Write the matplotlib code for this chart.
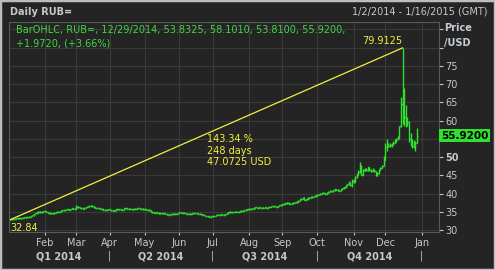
import numpy as np
import pandas as pd
import matplotlib
matplotlib.use("Agg")
import matplotlib.pyplot as plt
from matplotlib.patches import Rectangle

# Daily RUB= bars, 2 Jan 2014 - 29 Dec 2014 (business days)
OPEN = [
    32.88, 32.95, 33.05, 33.10, 33.12, 33.20, 33.28, 33.22, 33.30, 33.38, 33.50, 33.48, 33.60, 33.70, 33.85, 34.05, 34.40, 34.62, 34.85, 35.10, 34.90, 35.08,
    35.20, 35.15, 34.98, 34.80, 34.62, 34.70, 34.60, 34.80, 34.92, 35.10, 35.02, 35.30, 35.48, 35.50, 35.62, 35.72, 35.60, 35.80, 35.98, 35.90,
    35.92, 36.45, 36.25, 36.05, 35.95, 35.92, 36.15, 36.35, 36.50, 36.60, 36.72, 36.55, 36.25, 36.10, 36.05, 35.95, 35.85, 35.72, 35.62, 35.60, 35.58,
    35.68, 35.55, 35.48, 35.30, 35.42, 35.70, 35.72, 35.70, 35.62, 35.60, 36.00, 36.05, 35.90, 35.88, 35.80, 35.70, 35.82, 35.90, 36.02, 36.00, 35.92, 35.88,
    35.70, 35.68, 35.52, 35.60, 35.40, 35.02, 34.90, 34.80, 34.92, 34.78, 34.62, 34.58, 34.70, 34.62, 34.42, 34.30, 34.22, 34.30, 34.40, 34.50, 34.42, 34.52,
    34.70, 34.88, 34.72, 34.80, 34.70, 34.52, 34.50, 34.48, 34.52, 34.60, 34.72, 34.70, 34.60, 34.50, 34.40, 34.20, 34.10, 33.90, 33.82, 33.78, 33.70,
    33.80, 33.88, 33.82, 34.10, 34.20, 34.22, 34.30, 34.28, 34.20, 34.40, 34.60, 34.90, 35.02, 34.90, 35.00, 35.05, 34.92, 35.10, 35.12, 35.30, 35.20, 35.50, 35.62,
    35.70, 35.80, 35.82, 35.90, 36.10, 36.30, 36.02, 36.28, 36.20, 36.10, 36.12, 36.22, 36.10, 36.30, 36.32, 36.50, 36.62, 36.50, 36.42, 36.60, 36.80,
    37.00, 37.10, 37.22, 37.40, 37.52, 37.30, 37.20, 37.32, 37.50, 37.62, 37.80, 38.02, 38.40, 38.62, 38.90, 38.30, 38.42, 38.80, 38.92, 39.20, 39.02, 39.30,
    39.60, 39.62, 39.80, 40.00, 40.12, 40.20, 40.02, 40.30, 40.42, 40.70, 40.62, 40.90, 41.20, 41.02, 40.90, 40.82, 41.20, 41.50, 41.72, 42.30, 42.52, 43.00, 42.40,
    43.40, 43.20, 44.50, 45.20, 45.90, 47.60, 45.20, 46.40, 46.60, 46.40, 47.20, 46.40, 46.30, 46.60, 46.10, 45.00, 45.60, 46.60, 47.00, 47.70,
    49.30, 52.70, 53.50, 53.00, 53.30, 53.50, 54.00, 54.20, 54.90, 55.30, 58.40, 64.50, 67.80, 61.00, 60.50, 59.70, 55.00, 54.50, 53.00, 54.00, 53.8325,
]
HIGH = [
    33.05, 33.15, 33.22, 33.25, 33.30, 33.38, 33.36, 33.40, 33.48, 33.60, 33.60, 33.70, 33.82, 33.98, 34.20, 34.55, 34.80, 35.00, 35.28, 35.22, 35.20, 35.35,
    35.38, 35.25, 35.08, 34.90, 34.82, 34.80, 34.90, 35.02, 35.22, 35.18, 35.42, 35.60, 35.62, 35.74, 35.85, 35.82, 35.92, 36.10, 36.08, 36.05,
    36.90, 36.60, 36.35, 36.15, 36.08, 36.25, 36.48, 36.62, 36.72, 36.85, 36.80, 36.62, 36.35, 36.20, 36.15, 36.05, 35.95, 35.82, 35.72, 35.70, 35.78,
    35.80, 35.65, 35.55, 35.52, 35.82, 35.85, 35.82, 35.78, 35.72, 36.10, 36.18, 36.12, 36.00, 35.95, 35.88, 35.92, 36.02, 36.12, 36.12, 36.08, 36.00, 35.95,
    35.82, 35.78, 35.70, 35.68, 35.48, 35.10, 35.00, 35.02, 34.98, 34.85, 34.72, 34.80, 34.78, 34.70, 34.50, 34.40, 34.40, 34.50, 34.60, 34.58, 34.62, 34.82,
    35.00, 34.95, 34.90, 34.88, 34.78, 34.62, 34.60, 34.62, 34.70, 34.82, 34.82, 34.78, 34.68, 34.58, 34.48, 34.30, 34.20, 34.00, 33.92, 33.88, 33.90,
    33.98, 33.98, 34.20, 34.32, 34.32, 34.42, 34.40, 34.35, 34.50, 34.72, 35.02, 35.15, 35.10, 35.10, 35.18, 35.15, 35.20, 35.25, 35.42, 35.40, 35.62, 35.75, 35.85,
    35.92, 35.95, 36.02, 36.22, 36.45, 36.40, 36.38, 36.35, 36.28, 36.22, 36.32, 36.30, 36.40, 36.45, 36.62, 36.75, 36.72, 36.60, 36.72, 36.92, 37.15,
    37.25, 37.35, 37.55, 37.70, 37.62, 37.40, 37.45, 37.62, 37.75, 37.95, 38.15, 38.55, 38.80, 39.10, 38.95, 38.55, 38.95, 39.08, 39.35, 39.32, 39.45, 39.75,
    39.85, 39.95, 40.15, 40.30, 40.40, 40.30, 40.45, 40.60, 40.90, 40.85, 41.05, 41.40, 41.35, 41.15, 41.00, 41.35, 41.65, 41.90, 42.45, 42.75, 43.35, 43.10, 44.00,
    43.90, 44.80, 45.70, 46.40, 48.70, 47.80, 46.80, 47.00, 46.90, 47.40, 47.30, 46.70, 46.90, 46.70, 46.20, 45.90, 46.80, 47.40, 47.90, 50.20,
    54.00, 54.90, 53.90, 53.90, 53.80, 54.40, 54.90, 55.30, 55.80, 58.60, 66.60, 79.9125, 69.00, 64.30, 61.00, 59.80, 56.50, 55.00, 54.80, 54.30, 58.101,
]
LOW = [
    32.84, 32.88, 32.96, 33.00, 33.04, 33.10, 33.12, 33.14, 33.22, 33.30, 33.38, 33.40, 33.52, 33.62, 33.78, 33.98, 34.30, 34.52, 34.75, 34.80, 34.80, 35.00,
    35.02, 34.90, 34.72, 34.55, 34.55, 34.52, 34.55, 34.72, 34.85, 34.92, 34.95, 35.22, 35.38, 35.42, 35.55, 35.50, 35.52, 35.72, 35.82, 35.80,
    35.85, 36.15, 35.95, 35.85, 35.82, 35.85, 36.05, 36.25, 36.42, 36.50, 36.45, 36.18, 36.00, 35.95, 35.85, 35.75, 35.62, 35.52, 35.50, 35.48, 35.50,
    35.45, 35.38, 35.22, 35.25, 35.35, 35.60, 35.62, 35.55, 35.50, 35.55, 35.92, 35.82, 35.78, 35.72, 35.60, 35.65, 35.75, 35.82, 35.90, 35.85, 35.80, 35.62,
    35.58, 35.45, 35.45, 35.32, 34.95, 34.82, 34.72, 34.75, 34.70, 34.55, 34.50, 34.52, 34.55, 34.38, 34.22, 34.15, 34.15, 34.22, 34.32, 34.35, 34.38, 34.45,
    34.62, 34.65, 34.65, 34.62, 34.45, 34.42, 34.40, 34.40, 34.45, 34.52, 34.62, 34.52, 34.42, 34.32, 34.12, 34.02, 33.82, 33.75, 33.70, 33.62, 33.62,
    33.72, 33.75, 33.78, 34.02, 34.12, 34.15, 34.20, 34.12, 34.15, 34.32, 34.52, 34.82, 34.82, 34.85, 34.92, 34.85, 34.85, 35.02, 35.05, 35.12, 35.15, 35.42, 35.52,
    35.62, 35.70, 35.75, 35.82, 36.02, 35.95, 35.95, 36.12, 36.02, 36.02, 36.05, 36.02, 36.02, 36.22, 36.25, 36.42, 36.42, 36.35, 36.35, 36.52, 36.72,
    36.90, 37.00, 37.12, 37.30, 37.20, 37.10, 37.12, 37.25, 37.42, 37.55, 37.72, 37.95, 38.32, 38.52, 38.20, 38.20, 38.35, 38.72, 38.85, 38.92, 38.95, 39.22,
    39.45, 39.52, 39.70, 39.90, 40.02, 39.90, 39.95, 40.20, 40.35, 40.50, 40.55, 40.82, 40.90, 40.80, 40.70, 40.75, 41.10, 41.40, 41.60, 42.15, 42.40, 42.20, 41.90,
    42.80, 43.10, 44.30, 45.00, 45.70, 45.00, 45.10, 46.10, 46.20, 46.30, 46.20, 45.90, 46.10, 45.90, 44.70, 44.80, 45.50, 46.40, 46.90, 47.60,
    49.20, 51.80, 52.70, 52.80, 52.90, 53.30, 53.80, 54.10, 54.70, 55.20, 58.20, 59.00, 58.40, 58.30, 58.50, 54.20, 53.00, 52.60, 52.60, 51.80, 53.81,
]
CLOSE = [
    32.95, 33.05, 33.10, 33.12, 33.20, 33.28, 33.22, 33.30, 33.38, 33.50, 33.48, 33.60, 33.70, 33.85, 34.05, 34.40, 34.62, 34.85, 35.10, 34.90, 35.08, 35.20,
    35.15, 34.98, 34.80, 34.62, 34.70, 34.60, 34.80, 34.92, 35.10, 35.02, 35.30, 35.48, 35.50, 35.62, 35.72, 35.60, 35.80, 35.98, 35.90, 35.92,
    36.45, 36.25, 36.05, 35.95, 35.92, 36.15, 36.35, 36.50, 36.60, 36.72, 36.55, 36.25, 36.10, 36.05, 35.95, 35.85, 35.72, 35.62, 35.60, 35.58, 35.68,
    35.55, 35.48, 35.30, 35.42, 35.70, 35.72, 35.70, 35.62, 35.60, 36.00, 36.05, 35.90, 35.88, 35.80, 35.70, 35.82, 35.90, 36.02, 36.00, 35.92, 35.88, 35.70,
    35.68, 35.52, 35.60, 35.40, 35.02, 34.90, 34.80, 34.92, 34.78, 34.62, 34.58, 34.70, 34.62, 34.42, 34.30, 34.22, 34.30, 34.40, 34.50, 34.42, 34.52, 34.70,
    34.88, 34.72, 34.80, 34.70, 34.52, 34.50, 34.48, 34.52, 34.60, 34.72, 34.70, 34.60, 34.50, 34.40, 34.20, 34.10, 33.90, 33.82, 33.78, 33.70, 33.80,
    33.88, 33.82, 34.10, 34.20, 34.22, 34.30, 34.28, 34.20, 34.40, 34.60, 34.90, 35.02, 34.90, 35.00, 35.05, 34.92, 35.10, 35.12, 35.30, 35.20, 35.50, 35.62, 35.70,
    35.80, 35.82, 35.90, 36.10, 36.30, 36.02, 36.28, 36.20, 36.10, 36.12, 36.22, 36.10, 36.30, 36.32, 36.50, 36.62, 36.50, 36.42, 36.60, 36.80, 37.00,
    37.10, 37.22, 37.40, 37.52, 37.30, 37.20, 37.32, 37.50, 37.62, 37.80, 38.02, 38.40, 38.62, 38.90, 38.30, 38.42, 38.80, 38.92, 39.20, 39.02, 39.30, 39.60,
    39.62, 39.80, 40.00, 40.12, 40.20, 40.02, 40.30, 40.42, 40.70, 40.62, 40.90, 41.20, 41.02, 40.90, 40.82, 41.20, 41.50, 41.72, 42.30, 42.52, 43.00, 42.40, 43.40,
    43.20, 44.50, 45.20, 45.90, 47.60, 45.20, 46.40, 46.60, 46.40, 47.20, 46.40, 46.30, 46.60, 46.10, 45.00, 45.60, 46.60, 47.00, 47.70, 49.30,
    52.70, 53.50, 53.00, 53.30, 53.50, 54.00, 54.20, 54.90, 55.30, 58.40, 64.50, 67.80, 61.00, 60.50, 59.70, 55.00, 54.50, 53.00, 54.00, 53.95, 55.92,
]

MONTH_LABELS = ["Feb", "Mar", "Apr", "May", "Jun", "Jul", "Aug", "Sep", "Oct", "Nov", "Dec", "Jan"]
QUARTER_LABELS = ["Q1 2014", "Q2 2014", "Q3 2014", "Q4 2014"]
# 55 sits under the last-price tag, so it is not labelled
Y_LABELLED = [30, 35, 40, 45, 50, 60, 65, 70, 75]

TREND_START = 32.84
TREND_END = 79.9125
TREND_INFO = "143.34 %\n248 days\n47.0725 USD"
LAST_PRICE = 55.92

# colours
BG = "#242424"
GRID = "#3a3a3a"
TEXT = "#c8c8c8"
GREEN = "#2fe02f"
YELLOW = "#f0f040"

# business-day axis (weekends removed, like the source terminal)
days = pd.bdate_range("2014-01-02", "2015-01-16")
x = np.arange(len(OPEN))
month_idx = [i for i in range(1, len(days)) if days[i].month != days[i - 1].month]
quarter_idx = [i for i in month_idx if days[i].month in (4, 7, 10, 1)]

plt.rcParams["font.family"] = "DejaVu Sans"

fig = plt.figure(figsize=(4.95, 2.7), dpi=100, facecolor=BG)
ax = fig.add_axes([9 / 495, 1 - 232 / 270, 430 / 495, 210 / 270])
ax.set_facecolor(BG)

# OHLC bars
ax.vlines(x, LOW, HIGH, color=GREEN, lw=1.0)
ax.hlines(OPEN, x - 0.7, x, color=GREEN, lw=1.0)
ax.hlines(CLOSE, x, x + 0.7, color=GREEN, lw=1.0)

# trend line low -> high
peak = int(np.argmax(HIGH))
ax.plot([0, peak], [TREND_START, TREND_END], color=YELLOW, lw=0.9)
ax.annotate(f"{TREND_START:.2f}", (0, TREND_START), xytext=(0, -2), textcoords="offset points",
            ha="left", va="top", color=YELLOW, fontsize=7)
ax.annotate(f"{TREND_END:.4f}", (peak, TREND_END), xytext=(0, 1), textcoords="offset points",
            ha="right", va="bottom", color=YELLOW, fontsize=7)
ax.text(124.5, 56.2, TREND_INFO, ha="left", va="top", color=YELLOW, fontsize=7, linespacing=1.15)

ax.set_xlim(-0.6, 271)
ax.set_ylim(29.5, 87)

# grid
ax.set_yticks(np.arange(30, 90, 5))
ax.set_xticks(month_idx)
ax.grid(True, color=GRID, lw=0.8)
ax.set_axisbelow(True)

# right price axis
ax.yaxis.tick_right()
ax.set_yticklabels([str(v) if v in Y_LABELLED else "" for v in range(30, 90, 5)])
ax.tick_params(axis="y", colors=TEXT, labelsize=7, length=3, pad=1.5, width=0.8)
for lab in ax.get_yticklabels():
    if lab.get_text() == "50":
        lab.set_fontweight("bold")
ax.set_xticklabels(MONTH_LABELS)
ax.tick_params(axis="x", colors=TEXT, labelsize=7, length=2, pad=2, width=0.8)

for s in ax.spines.values():
    s.set_color("#5a5a5a")
    s.set_linewidth(0.8)

# quarter row
trans = ax.get_xaxis_transform()
bounds = [-1] + quarter_idx
for q, lab in enumerate(QUARTER_LABELS):
    ax.text((bounds[q] + bounds[q + 1]) / 2, -0.115, lab, transform=trans, ha="center", va="center",
            color=TEXT, fontsize=7, fontweight="bold")
for b in quarter_idx:
    ax.text(b, -0.115, "|", transform=trans, ha="center", va="center", color=TEXT, fontsize=7)

# last price tag
ax.text(1.004, LAST_PRICE, f"{LAST_PRICE:.4f}", transform=ax.get_yaxis_transform(), ha="left", va="center",
        color="black", fontsize=7.5, fontweight="bold",
        bbox=dict(boxstyle="square,pad=0.15", fc=GREEN, ec="none"))

# headers
fig.text(10 / 495, 1 - 12 / 270, "Daily RUB=", ha="left", va="center", color=TEXT, fontsize=7, fontweight="bold")
fig.text(488 / 495, 1 - 12 / 270, "1/2/2014 - 1/16/2015 (GMT)", ha="right", va="center", color=TEXT, fontsize=7)
fig.text(16 / 495, 1 - 30 / 270, "BarOHLC, RUB=, 12/29/2014, 53.8325, 58.1010, 53.8100, 55.9200,",
         ha="left", va="center", color="#3fd83f", fontsize=7)
fig.text(16 / 495, 1 - 44 / 270, "+1.9720, (+3.66%)", ha="left", va="center", color="#3fd83f", fontsize=7)
fig.text(444 / 495, 1 - 28 / 270, "Price", ha="left", va="center", color="#c5ccd6", fontsize=7, fontweight="bold")
fig.text(444 / 495, 1 - 43 / 270, "/USD", ha="left", va="center", color="#c5ccd6", fontsize=7, fontweight="bold")

fig.patches.append(Rectangle((0, 0), 1, 1, transform=fig.transFigure, fill=False, ec="#bdbdbd", lw=2.5))

fig.savefig("out.png", dpi=100, facecolor=BG)
